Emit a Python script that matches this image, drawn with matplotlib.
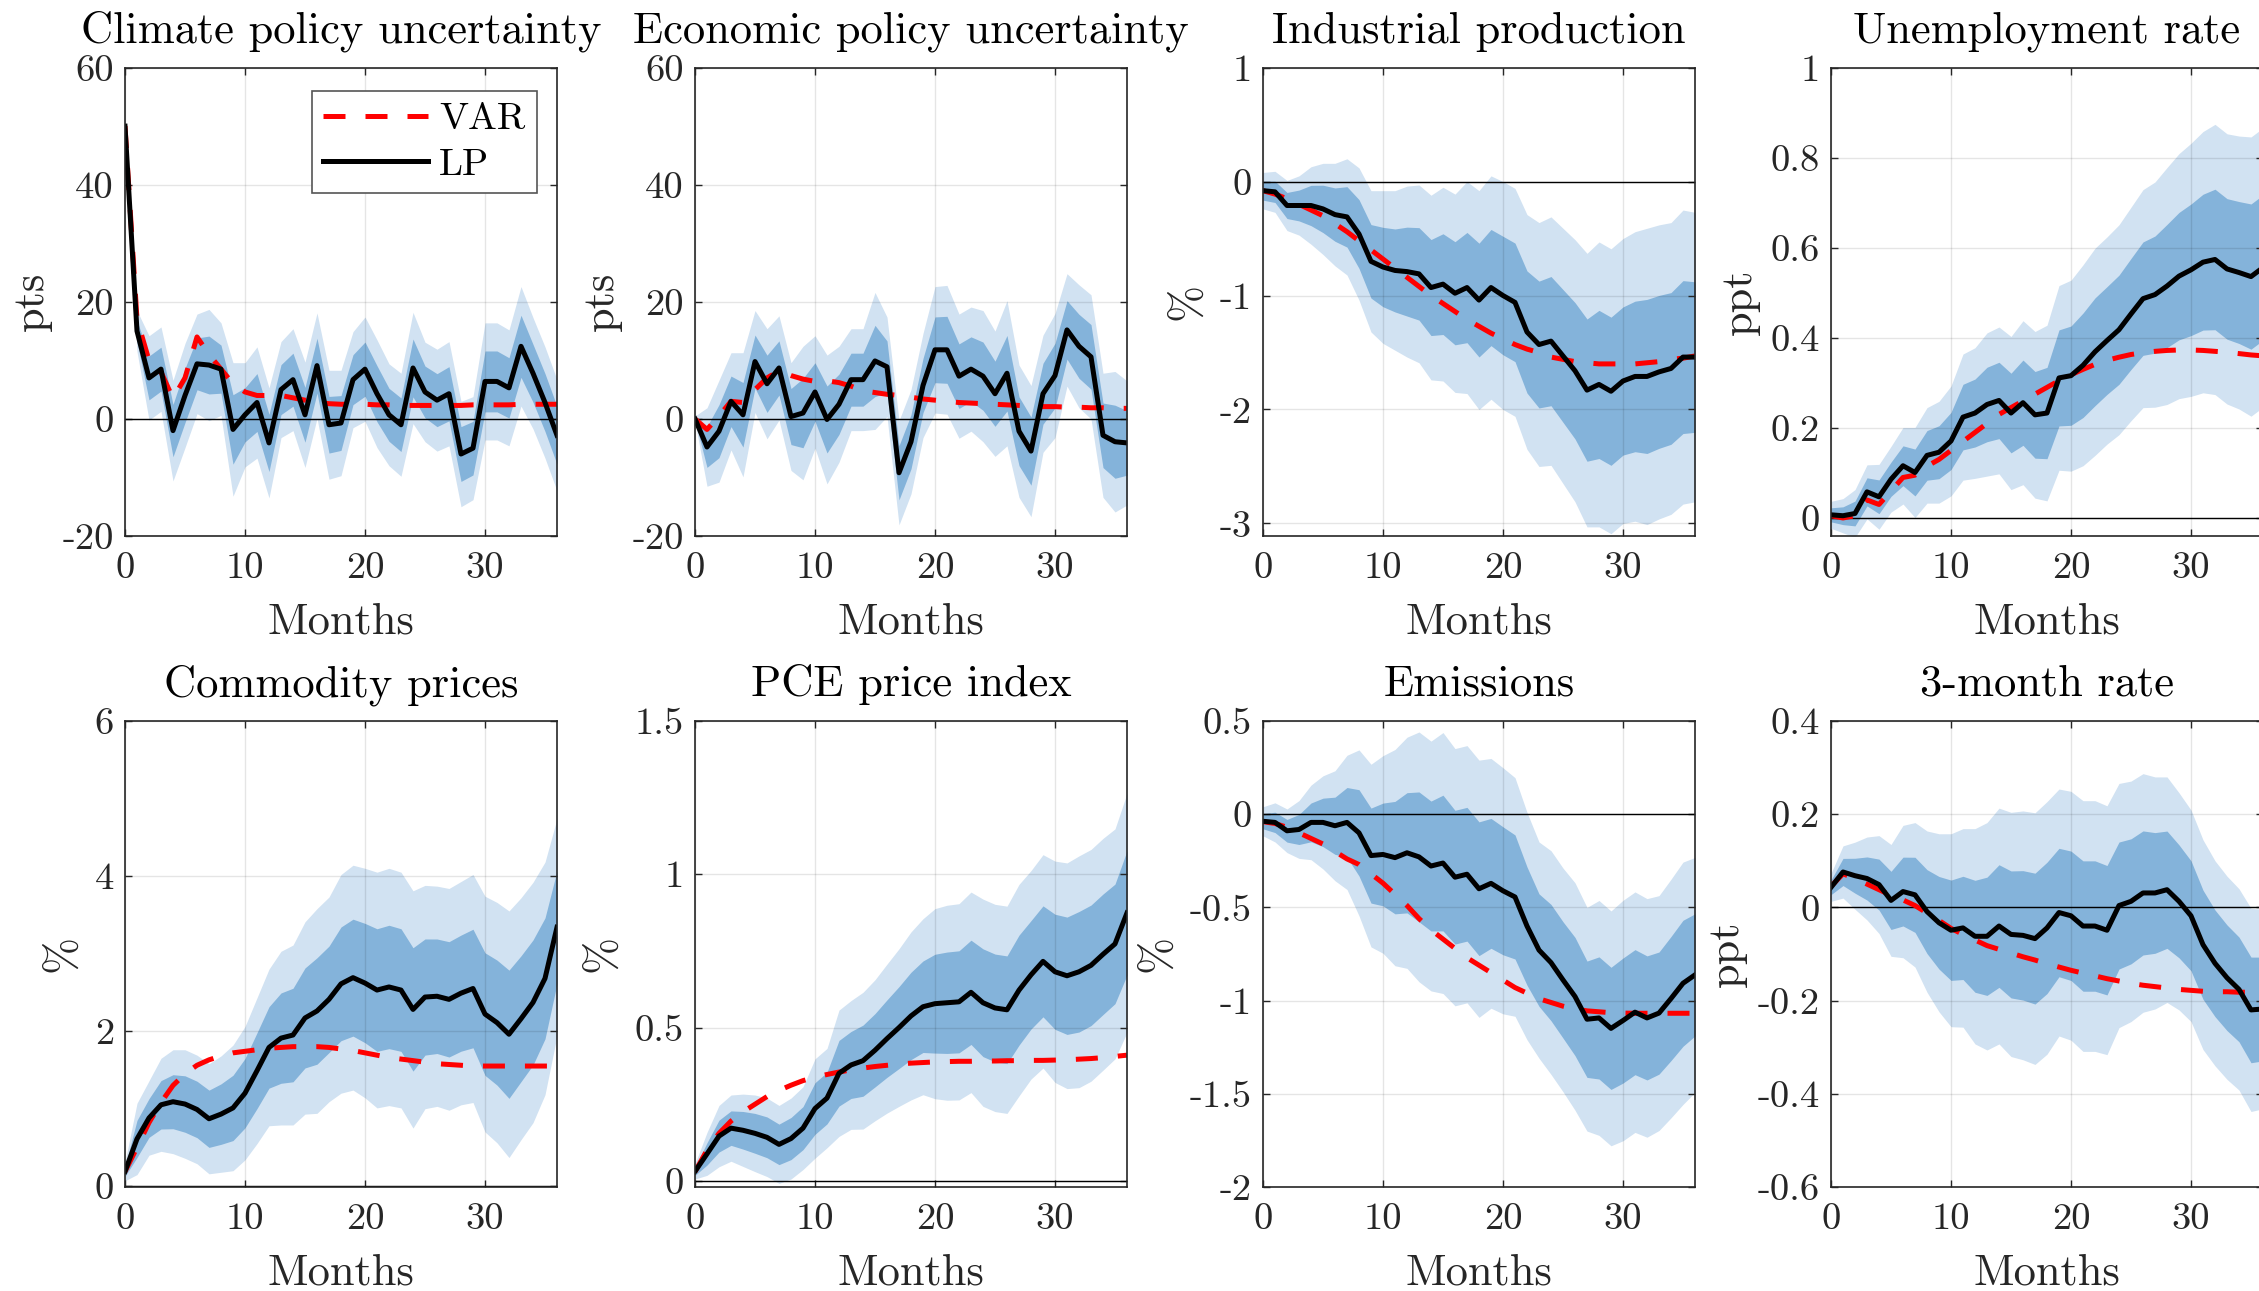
import numpy as np
import matplotlib
matplotlib.use("Agg")
import matplotlib.pyplot as plt
from matplotlib.ticker import FuncFormatter

# ---------------- data ----------------
months = np.arange(37)

titles = ["Climate policy uncertainty", "Economic policy uncertainty",
          "Industrial production", "Unemployment rate",
          "Commodity prices", "PCE price index", "Emissions", "3-month rate"]
units = ["pts", "pts", "%", "ppt", "%", "%", "%", "ppt"]

# local projection point estimates
cpu_lp = [50, 15, 7, 8.5, -2, 4, 9.4, 9.2, 8.5, -1.8, 0.7, 2.8, -4.1, 5, 6.7, 0.7, 9.1, -1, -0.7,
          6.7, 8.5, 4.3, 0.7, -1, 8.7, 4.6, 3.2, 4.3, -6, -5, 6.4, 6.4, 5.3, 12.4, 7.8, 2.8, -2.8]
epu_lp = [0, -4.8, -2.1, 3, 0.7, 9.8, 6, 8.7, 0.4, 1, 4.6, -0.1, 2.5, 6.7, 6.7, 9.9, 8.9, -9.2, -3.9,
          5.7, 11.8, 11.8, 7.3, 8.5, 7.3, 4.3, 7.8, -2.1, -5.5, 4.3, 7.4, 15.2, 12.4, 10.6, -2.8, -3.9, -4.1]
ip_lp = [-0.08, -0.09, -0.21, -0.21, -0.21, -0.24, -0.29, -0.31, -0.46, -0.70, -0.75, -0.78, -0.79,
         -0.81, -0.93, -0.90, -0.98, -0.93, -1.04, -0.93, -1.00, -1.06, -1.32, -1.43, -1.40, -1.53,
         -1.66, -1.83, -1.78, -1.84, -1.75, -1.71, -1.71, -1.67, -1.64, -1.54, -1.54]
ur_lp = [0.007, 0.005, 0.01, 0.058, 0.047, 0.086, 0.116, 0.101, 0.139, 0.146, 0.171, 0.224, 0.233,
         0.252, 0.261, 0.233, 0.256, 0.229, 0.233, 0.311, 0.316, 0.339, 0.369, 0.394, 0.418, 0.453,
         0.487, 0.496, 0.515, 0.537, 0.551, 0.568, 0.574, 0.553, 0.545, 0.536, 0.556]
com_lp = [0.19, 0.61, 0.88, 1.05, 1.09, 1.06, 0.99, 0.87, 0.93, 1.01, 1.2, 1.49, 1.79, 1.91, 1.95,
          2.17, 2.26, 2.41, 2.61, 2.69, 2.62, 2.53, 2.57, 2.53, 2.28, 2.44, 2.45, 2.41, 2.49, 2.55,
          2.22, 2.11, 1.96, 2.16, 2.37, 2.68, 3.34]
pce_lp = [0.031, 0.088, 0.146, 0.172, 0.165, 0.155, 0.142, 0.119, 0.138, 0.172, 0.236, 0.27, 0.351,
          0.378, 0.392, 0.426, 0.464, 0.5, 0.538, 0.568, 0.578, 0.581, 0.584, 0.615, 0.581, 0.564,
          0.558, 0.622, 0.672, 0.716, 0.682, 0.669, 0.682, 0.703, 0.739, 0.773, 0.874]
emi_lp = [-0.038, -0.044, -0.089, -0.082, -0.044, -0.044, -0.062, -0.044, -0.1, -0.222, -0.216,
          -0.233, -0.207, -0.229, -0.278, -0.262, -0.338, -0.322, -0.4, -0.371, -0.411, -0.444,
          -0.6, -0.729, -0.796, -0.889, -0.978, -1.1, -1.093, -1.149, -1.107, -1.062, -1.093,
          -1.067, -0.989, -0.907, -0.862]
tb_lp = [0.043, 0.076, 0.068, 0.062, 0.049, 0.015, 0.034, 0.027, -0.009, -0.033, -0.049, -0.044,
         -0.062, -0.062, -0.04, -0.058, -0.06, -0.067, -0.044, -0.011, -0.018, -0.04, -0.04, -0.049,
         0.004, 0.013, 0.031, 0.031, 0.038, 0.013, -0.018, -0.08, -0.12, -0.151, -0.176, -0.22, -0.218]

# VAR impulse responses
cpu_var = [50, 17, 10, 8, 3.5, 7, 14, 11, 8.5, 6, 4.6, 4, 4, 4, 3.6, 3.2, 2.8, 2.6, 2.5, 2.5, 2.5,
           2.4, 2.4, 2.3, 2.3, 2.3, 2.3, 2.3, 2.3, 2.4, 2.4, 2.4, 2.4, 2.5, 2.5, 2.5, 2.5]
epu_var = [0, -1.8, 0.5, 3, 2.8, 5, 7, 8.2, 7.4, 6.8, 6.4, 6.5, 6.2, 5.6, 4.8, 4.5, 4.2, 4.0, 3.7,
           3.4, 3.2, 3.0, 2.8, 2.7, 2.6, 2.5, 2.4, 2.3, 2.2, 2.1, 2.1, 2.0, 2.0, 1.9, 1.9, 1.8, 1.8]
ip_var = [-0.08, -0.11, -0.15, -0.2, -0.25, -0.3, -0.37, -0.44, -0.52, -0.6, -0.68, -0.76, -0.84,
          -0.92, -1.0, -1.07, -1.14, -1.21, -1.27, -1.33, -1.38, -1.43, -1.47, -1.5, -1.54, -1.56,
          -1.58, -1.59, -1.6, -1.6, -1.6, -1.6, -1.59, -1.58, -1.56, -1.55, -1.53]
ur_var = [0.005, 0.0, 0.005, 0.04, 0.03, 0.06, 0.09, 0.095, 0.115, 0.13, 0.15, 0.17, 0.19, 0.21,
          0.23, 0.245, 0.26, 0.275, 0.29, 0.305, 0.318, 0.33, 0.341, 0.35, 0.357, 0.363, 0.367,
          0.37, 0.372, 0.373, 0.373, 0.372, 0.37, 0.368, 0.365, 0.362, 0.36]
com_var = [0.19, 0.5, 0.82, 1.08, 1.3, 1.45, 1.56, 1.63, 1.68, 1.72, 1.74, 1.76, 1.78, 1.79, 1.8,
           1.8, 1.8, 1.79, 1.77, 1.75, 1.72, 1.69, 1.66, 1.64, 1.62, 1.6, 1.58, 1.57, 1.56, 1.55,
           1.55, 1.55, 1.55, 1.55, 1.55, 1.55, 1.55]
pce_var = [0.03, 0.1, 0.155, 0.195, 0.225, 0.25, 0.275, 0.295, 0.312, 0.327, 0.338, 0.347, 0.355,
           0.362, 0.368, 0.373, 0.377, 0.381, 0.384, 0.386, 0.388, 0.389, 0.39, 0.39, 0.391, 0.391,
           0.392, 0.392, 0.393, 0.393, 0.394, 0.395, 0.397, 0.399, 0.402, 0.406, 0.41]
emi_var = [-0.04, -0.05, -0.07, -0.1, -0.13, -0.16, -0.2, -0.24, -0.27, -0.32, -0.37, -0.43, -0.49,
           -0.56, -0.62, -0.67, -0.72, -0.77, -0.81, -0.85, -0.89, -0.93, -0.96, -0.99, -1.01,
           -1.03, -1.045, -1.055, -1.06, -1.065, -1.067, -1.068, -1.068, -1.068, -1.068, -1.068, -1.068]
tb_var = [0.045, 0.072, 0.062, 0.05, 0.038, 0.026, 0.016, 0.004, -0.012, -0.028, -0.045, -0.058,
          -0.07, -0.082, -0.09, -0.098, -0.106, -0.113, -0.121, -0.128, -0.135, -0.141, -0.147,
          -0.153, -0.158, -0.163, -0.167, -0.17, -0.173, -0.176, -0.178, -0.18, -0.181, -0.181,
          -0.182, -0.182, -0.182]

# half-widths of the outer (wide) confidence band around the LP estimate
cpu_hw = [0, 3.5, 7.2, 7.2, 8.6, 8.9, 8.5, 9.5, 7.9, 11.4, 8.9, 9.5, 9.4, 8.2, 8.7, 9, 9, 9.3, 9,
          8.2, 8.9, 9.2, 8.7, 8.8, 9.5, 8.5, 8.7, 8.9, 9, 8.8, 10, 10, 9.9, 10.2, 9.5, 9.5, 9.5]
epu_hw = [0.5, 6.7, 8.7, 8.3, 10.6, 8.7, 9.4, 8.9, 9.2, 11.4, 9.6, 11, 9.9, 8.7, 8.7, 11.7, 8.5,
          8.9, 8.9, 8.9, 10.8, 11, 10.6, 10.6, 11.2, 10.7, 12.4, 11.3, 11.2, 10, 10.6, 9.6, 10.5,
          10.6, 10.6, 12, 10.6]
ip_hw = [0.16, 0.18, 0.22, 0.26, 0.34, 0.4, 0.45, 0.51, 0.58, 0.62, 0.67, 0.7, 0.75, 0.78, 0.81,
         0.85, 0.87, 0.93, 0.96, 0.98, 1.0, 1.0, 1.03, 1.07, 1.09, 1.12, 1.15, 1.2, 1.25, 1.25,
         1.25, 1.27, 1.3, 1.29, 1.28, 1.29, 1.27]
ur_hw = [0.03, 0.038, 0.053, 0.06, 0.072, 0.073, 0.085, 0.1, 0.106, 0.113, 0.122, 0.14, 0.145,
         0.159, 0.163, 0.17, 0.182, 0.185, 0.195, 0.205, 0.212, 0.223, 0.23, 0.23, 0.233, 0.237,
         0.242, 0.25, 0.263, 0.272, 0.281, 0.29, 0.3, 0.3, 0.303, 0.31, 0.31]
com_hw = [0.12, 0.46, 0.48, 0.6, 0.67, 0.7, 0.7, 0.71, 0.75, 0.81, 0.86, 0.94, 1.01, 1.12, 1.16,
          1.24, 1.32, 1.32, 1.41, 1.45, 1.48, 1.52, 1.53, 1.52, 1.53, 1.44, 1.42, 1.43, 1.44, 1.47,
          1.52, 1.55, 1.59, 1.56, 1.55, 1.5, 1.4]
pce_hw = [0.025, 0.07, 0.1, 0.108, 0.118, 0.125, 0.128, 0.127, 0.132, 0.135, 0.162, 0.162, 0.206,
          0.21, 0.223, 0.23, 0.243, 0.257, 0.274, 0.287, 0.31, 0.318, 0.32, 0.327, 0.338, 0.338,
          0.338, 0.345, 0.34, 0.348, 0.361, 0.368, 0.378, 0.378, 0.378, 0.375, 0.39]
emi_hw = [0.078, 0.105, 0.117, 0.155, 0.2, 0.25, 0.295, 0.36, 0.445, 0.49, 0.53, 0.58, 0.62, 0.67,
          0.67, 0.7, 0.69, 0.69, 0.69, 0.67, 0.66, 0.64, 0.61, 0.58, 0.6, 0.6, 0.61, 0.6, 0.63,
          0.63, 0.645, 0.645, 0.64, 0.63, 0.64, 0.65, 0.63]
tb_hw = [0.03, 0.056, 0.072, 0.089, 0.105, 0.12, 0.142, 0.155, 0.173, 0.191, 0.207, 0.213, 0.231,
         0.244, 0.253, 0.262, 0.267, 0.27, 0.271, 0.265, 0.267, 0.269, 0.269, 0.267, 0.262, 0.258,
         0.256, 0.249, 0.242, 0.233, 0.227, 0.225, 0.22, 0.218, 0.216, 0.218, 0.214]

lp_all = [cpu_lp, epu_lp, ip_lp, ur_lp, com_lp, pce_lp, emi_lp, tb_lp]
var_all = [cpu_var, epu_var, ip_var, ur_var, com_var, pce_var, emi_var, tb_var]
hw_all = [cpu_hw, epu_hw, ip_hw, ur_hw, com_hw, pce_hw, emi_hw, tb_hw]

ylims = [(-20, 60), (-20, 60), (-3.11, 1), (-0.04, 1), (-0.01, 6), (-0.02, 1.5), (-2, 0.5), (-0.6, 0.4)]
yticks = [[-20, 0, 20, 40, 60], [-20, 0, 20, 40, 60], [-3, -2, -1, 0, 1],
          [0, 0.2, 0.4, 0.6, 0.8, 1], [0, 2, 4, 6], [0, 0.5, 1, 1.5],
          [-2, -1.5, -1, -0.5, 0, 0.5], [-0.6, -0.4, -0.2, 0, 0.2, 0.4]]
xticks = [0, 10, 20, 30]

# ---------------- style ----------------
plt.rcParams['font.family'] = ['cmr10', 'DejaVu Serif']
plt.rcParams['axes.unicode_minus'] = False
plt.rcParams['axes.formatter.use_mathtext'] = False

LIGHT = '#d1e2f2'
DARK = '#84b3da'
INNER = 0.52
AXC = '#262626'
TICK_FS = 27.8
LAB_FS = 32
TITLE_FS = 32
LW = 3.6

W, H = 2259, 1291
fig = plt.figure(figsize=(W / 100, H / 100), dpi=100)

lefts = [125, 695, 1263, 1831]
width = 432
rows = [(67.6, 536), (721, 1187)]

fmt = FuncFormatter(lambda v, p: ('%g' % v))

for i in range(8):
    r, c = divmod(i, 4)
    top, bot = rows[r]
    ax = fig.add_axes([lefts[c] / W, 1 - bot / H, width / W, (bot - top) / H])
    lp = np.array(lp_all[i])
    hw = np.array(hw_all[i])
    ax.fill_between(months, lp - hw, lp + hw, color=LIGHT, lw=0, zorder=1)
    ax.fill_between(months, lp - INNER * hw, lp + INNER * hw, color=DARK, lw=0, zorder=1.5)
    ax.axhline(0, color='k', lw=1.0, zorder=3)
    l_var, = ax.plot(months, var_all[i], color='#ff0000', lw=LW, ls=(0, (4.4, 4.0)),
                     zorder=4, label='VAR')
    l_lp, = ax.plot(months, lp, color='k', lw=LW, zorder=5, label='LP')
    ax.set_xlim(0, 36)
    ax.set_ylim(*ylims[i])
    ax.set_xticks(xticks)
    ax.set_yticks(yticks[i])
    ax.xaxis.set_major_formatter(fmt)
    ax.yaxis.set_major_formatter(fmt)
    ax.grid(True, color='k', alpha=0.1, lw=1.0)
    ax.set_axisbelow(False)
    ax.tick_params(direction='in', length=5, width=1.0, top=True, right=True,
                   labelsize=TICK_FS, colors=AXC)
    ax.tick_params(axis='x', pad=11)
    ax.tick_params(axis='y', pad=8)
    for s in ax.spines.values():
        s.set_color(AXC)
        s.set_linewidth(1.2)
        s.set_zorder(6)
    ax.set_title(titles[i], fontsize=TITLE_FS, pad=18, color='k')
    ax.set_xlabel('Months', fontsize=LAB_FS, labelpad=13, color=AXC)
    ax.set_ylabel(units[i], fontsize=LAB_FS, labelpad=8, color=AXC)
    if i == 0:
        leg = ax.legend(handles=[l_var, l_lp], loc='upper right',
                        bbox_to_anchor=(0.954, 0.951), borderaxespad=0,
                        fancybox=False, edgecolor='#555555', framealpha=1,
                        handlelength=2.7, fontsize=TICK_FS, handletextpad=0.3,
                        borderpad=0.3, labelspacing=0.3)
        leg.get_frame().set_linewidth(1.2)
        leg.set_zorder(10)

fig.savefig('out.png', dpi=100)
